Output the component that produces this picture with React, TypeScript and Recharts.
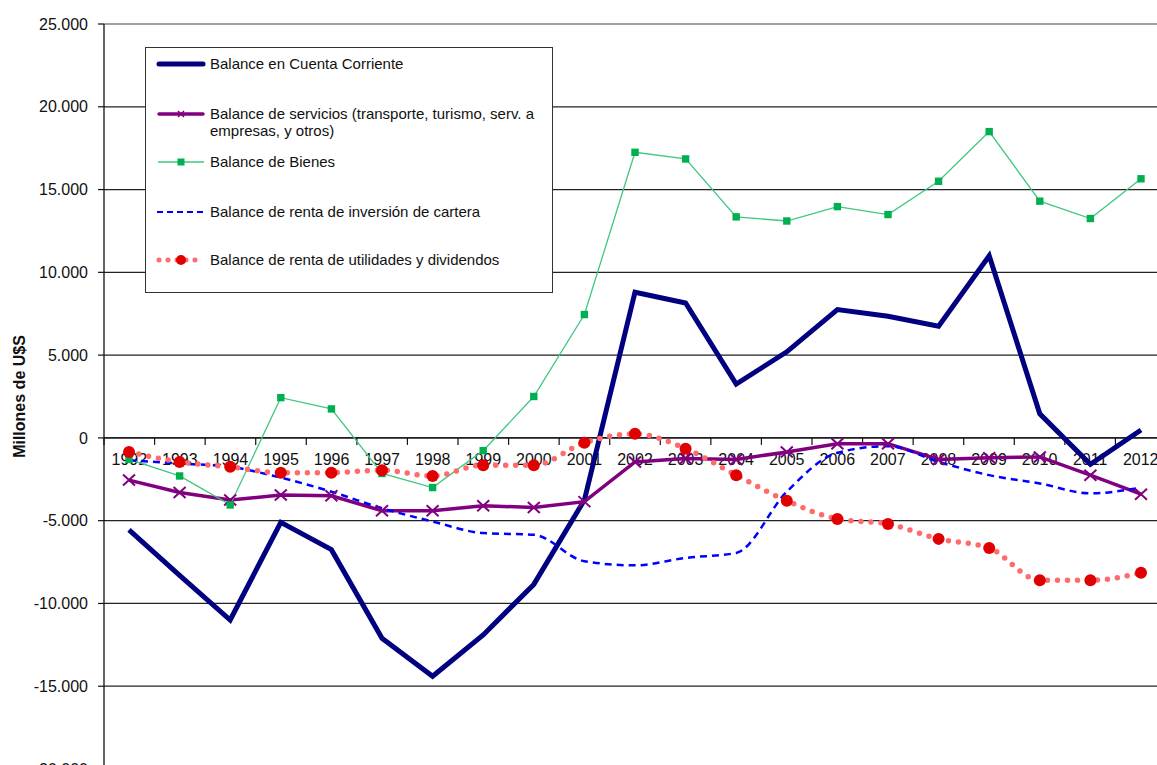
import React from "react"
import { LineChart, Line, XAxis, YAxis, CartesianGrid, Legend, ReferenceLine } from "recharts"

const years = [
  "1992", "1993", "1994", "1995", "1996", "1997", "1998", "1999", "2000", "2001", "2002",
  "2003", "2004", "2005", "2006", "2007", "2008", "2009", "2010", "2011", "2012",
]

// millones de U$S
const corriente = [-5550, -8300, -11000, -5100, -6750, -12100, -14400, -11900, -8850, -3750, 8800, 8150, 3250, 5200, 7750, 7350, 6750, 11000, 1450, -1600, 480]
const servicios = [-2550, -3300, -3750, -3450, -3500, -4400, -4400, -4100, -4200, -3850, -1450, -1250, -1300, -850, -350, -350, -1300, -1200, -1150, -2250, -3400]
const bienes = [-1300, -2300, -4050, 2430, 1750, -2150, -3000, -770, 2500, 7450, 17250, 16850, 13350, 13100, 13970, 13490, 15500, 18500, 14300, 13250, 15650]
const cartera = [-1350, -1550, -1750, -2400, -3250, -4250, -5050, -5750, -5850, -7450, -7700, -7250, -6950, -3250, -900, -500, -1450, -2250, -2750, -3350, -3000]
const utilidades = [-850, -1450, -1750, -2100, -2100, -1950, -2300, -1650, -1650, -300, 250, -650, -2250, -3800, -4900, -5200, -6100, -6650, -8600, -8600, -8150]

const yTicks = [-20000, -15000, -10000, -5000, 0, 5000, 10000, 15000, 20000, 25000]

const data = years.map((year, i) => ({
  year,
  corriente: corriente[i],
  servicios: servicios[i],
  bienes: bienes[i],
  cartera: cartera[i],
  utilidades: utilidades[i],
}))

const FONT = '"Liberation Sans", Arial, sans-serif'
const TEXT = "#111"

const NAVY = "#000080"
const PURPLE = "#800080"
const GREEN_LINE = "#3fc77f"
const GREEN_MARK = "#00b050"
const BLUE = "#0000ff"
const RED_LINE = "#ff6b6b"
const RED_MARK = "#e00000"

const fmt = (v: number) => {
  if (v === 0) return "0"
  const s = String(Math.abs(v)).replace(/\B(?=(\d{3})+(?!\d))/g, ".")
  return (v < 0 ? "-" : "") + s
}

function CrossDot(props: any) {
  const { cx, cy } = props
  if (cx == null || cy == null) return null
  return (
    <path
      d={`M${cx - 6},${cy - 5.5}L${cx + 6},${cy + 5.5}M${cx - 6},${cy + 5.5}L${cx + 6},${cy - 5.5}`}
      stroke={PURPLE}
      strokeWidth={2}
      fill="none"
    />
  )
}

function SquareDot(props: any) {
  const { cx, cy } = props
  if (cx == null || cy == null) return null
  return <rect x={cx - 3.7} y={cy - 3.7} width={7.4} height={7.4} fill={GREEN_MARK} />
}

// eje de categorias cruzando en 0, con marcas entre categorias
function ZeroAxis(props: any) {
  const { x1, x2, y1 } = props
  const left = Math.min(x1, x2)
  const right = Math.max(x1, x2)
  const step = (right - left) / years.length
  return (
    <g>
      <line x1={left} x2={right} y1={y1} y2={y1} stroke="#111" strokeWidth={1.3} />
      {years.map((_, i) => (
        <line key={"t" + i} x1={left + step * i} x2={left + step * i} y1={y1} y2={y1 + 7} stroke="#111" strokeWidth={1.2} />
      ))}
      {years.map((y, i) => (
        <text key={y} x={left + step * (i + 0.5)} y={y1 + 27} textAnchor="middle" fontSize={16} fontFamily={FONT} fill={TEXT}>
          {y}
        </text>
      ))}
    </g>
  )
}

function YTitle(props: any) {
  const vb = props.viewBox || { x: 0, y: 24, width: 104, height: 745 }
  const cx = vb.x + 19.5
  const cy = vb.y + vb.height / 2
  return (
    <text
      x={cx}
      y={cy}
      transform={`rotate(-90 ${cx} ${cy})`}
      textAnchor="middle"
      dominantBaseline="central"
      fontSize={16}
      fontWeight="bold"
      fontFamily={FONT}
      fill={TEXT}
    >
      Millones de U$S
    </text>
  )
}

function Sample({ kind }: { kind: number }) {
  return (
    <svg width={48} height={14} style={{ display: "block", overflow: "visible" }}>
      {kind === 0 && <line x1={2} x2={46} y1={7} y2={7} stroke={NAVY} strokeWidth={5} strokeLinecap="round" />}
      {kind === 1 && (
        <g>
          <line x1={2} x2={46} y1={7} y2={7} stroke={PURPLE} strokeWidth={3.5} strokeLinecap="round" />
          <path d="M21,4L27,10M21,10L27,4" stroke={PURPLE} strokeWidth={1.5} />
        </g>
      )}
      {kind === 2 && (
        <g>
          <line x1={1} x2={47} y1={7} y2={7} stroke={GREEN_LINE} strokeWidth={1.3} />
          <rect x={20.5} y={3.5} width={7} height={7} fill={GREEN_MARK} />
        </g>
      )}
      {kind === 3 && <line x1={0} x2={48} y1={7} y2={7} stroke={BLUE} strokeWidth={2.2} strokeDasharray="6 4" />}
      {kind === 4 && (
        <g>
          <line x1={2} x2={46} y1={7} y2={7} stroke={RED_LINE} strokeWidth={5} strokeDasharray="0 9" strokeLinecap="round" />
          <circle cx={24} cy={7} r={5} fill={RED_MARK} />
        </g>
      )}
    </svg>
  )
}

const legendRows = [
  { kind: 0, top: 16, lines: ["Balance en Cuenta Corriente"] },
  { kind: 1, top: 66, lines: ["Balance de servicios (transporte, turismo, serv. a", "empresas, y otros)"] },
  { kind: 2, top: 114, lines: ["Balance de Bienes"] },
  { kind: 3, top: 164, lines: ["Balance de renta de inversión de cartera"] },
  { kind: 4, top: 212, lines: ["Balance de renta de utilidades y dividendos"] },
]

function LegendBox() {
  return (
    <div
      style={{
        position: "relative",
        width: "100%",
        height: "100%",
        boxSizing: "border-box",
        border: "1.3px solid #333",
        background: "#fff",
        fontFamily: FONT,
        fontSize: 15,
        color: TEXT,
      }}
    >
      {legendRows.map((r) => (
        <div key={r.kind} style={{ position: "absolute", left: 11, top: r.top - 9, display: "flex", alignItems: "flex-start" }}>
          <div style={{ paddingTop: 2 }}>
            <Sample kind={r.kind} />
          </div>
          <div style={{ marginLeft: 5, lineHeight: "17px", whiteSpace: "nowrap" }}>
            {r.lines.map((l) => (
              <div key={l}>{l}</div>
            ))}
          </div>
        </div>
      ))}
    </div>
  )
}

export default function App() {
  return (
    <div style={{ position: "fixed", left: 0, top: 0, width: 1157, height: 765, overflow: "hidden", background: "#fff" }}>
      <LineChart width={1180} height={780} data={data} margin={{ top: 24, right: 14, bottom: 11, left: 0 }}>
        <CartesianGrid vertical={false} stroke="#222" strokeWidth={1.2} />
        <ReferenceLine y={25000} stroke="#a6a6a6" strokeWidth={1.3} />
        <XAxis dataKey="year" hide padding={{ left: 25, right: 25 }} />
        <YAxis
          width={104}
          domain={[-20000, 25000]}
          ticks={yTicks}
          interval={0}
          tickFormatter={fmt}
          tickSize={6}
          tickMargin={10}
          axisLine={{ stroke: "#111", strokeWidth: 1.3 }}
          tickLine={{ stroke: "#111", strokeWidth: 1.2 }}
          tick={{ fontSize: 16, fill: TEXT, fontFamily: FONT }}
          label={<YTitle />}
        />
        <ReferenceLine y={0} shape={(p: any) => <ZeroAxis {...p} />} />
        <Legend
          layout="horizontal"
          verticalAlign="middle"
          align="center"
          content={() => <LegendBox />}
          wrapperStyle={{ left: 145, top: 47, width: 408, height: 246 }}
        />
        <Line type="linear" dataKey="corriente" stroke={NAVY} strokeWidth={5} dot={false} isAnimationActive={false} />
        <Line type="linear" dataKey="servicios" stroke={PURPLE} strokeWidth={3.5} dot={<CrossDot />} isAnimationActive={false} />
        <Line type="linear" dataKey="bienes" stroke={GREEN_LINE} strokeWidth={1.3} dot={<SquareDot />} isAnimationActive={false} />
        <Line type="monotone" dataKey="cartera" stroke={BLUE} strokeWidth={2.5} strokeDasharray="7 5" dot={false} isAnimationActive={false} />
        <Line
          type="monotone"
          dataKey="utilidades"
          stroke={RED_LINE}
          strokeWidth={5.5}
          strokeDasharray="0 10"
          strokeLinecap="round"
          dot={{ r: 6, fill: RED_MARK, stroke: "none" }}
          isAnimationActive={false}
        />
      </LineChart>
    </div>
  )
}
